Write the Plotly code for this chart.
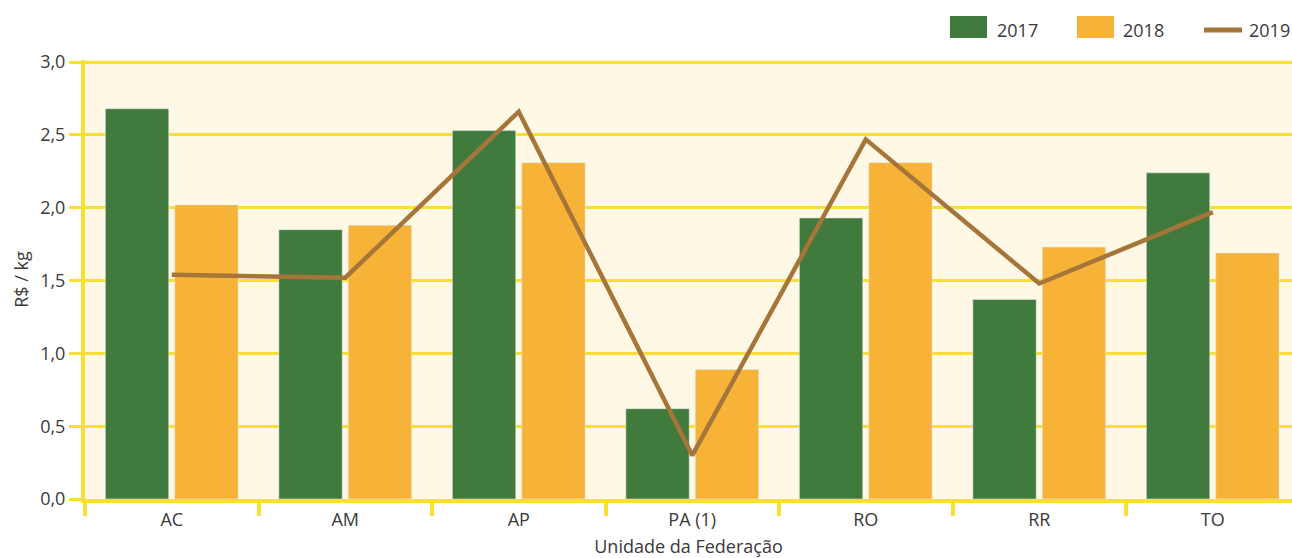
import plotly.graph_objects as go

# Preço médio por unidade da federação (R$/kg)
ufs = ["AC", "AM", "AP", "PA (1)", "RO", "RR", "TO"]
v2017 = [2.68, 1.85, 2.53, 0.62, 1.93, 1.37, 2.24]
v2018 = [2.02, 1.88, 2.31, 0.89, 2.31, 1.73, 1.69]
v2019 = [1.54, 1.52, 2.66, 0.30, 2.47, 1.48, 1.97]
y_ticks = [0, 0.5, 1.0, 1.5, 2.0, 2.5, 3.0]

GREEN = "#417A3D"
ORANGE = "#F7B238"
BROWN = "#A6753A"
YELLOW = "#F9DE36"
BG = "#FEF8E5"
TXT = "#3a3a3a"
FONT = "Open Sans"

W, H = 1292, 558
ML, MR, MT, MB = 85, 0, 60, 59
PW, PH = W - ML - MR, H - MT - MB


def px(x):
    return (x - ML) / PW


def py(y):
    return (H - MB - y) / PH


fig = go.Figure()
fig.add_trace(go.Bar(x=ufs, y=v2017, name="2017", marker_color=GREEN))
fig.add_trace(go.Bar(x=ufs, y=v2018, name="2018", marker_color=ORANGE))
fig.add_trace(go.Scatter(x=ufs, y=v2019, name="2019", mode="lines",
                         line=dict(color=BROWN, width=4.5)))

fig.update_layout(
    width=W, height=H,
    margin=dict(l=ML, r=MR, t=MT, b=MB),
    paper_bgcolor="white",
    plot_bgcolor=BG,
    barmode="group",
    bargap=0.20,
    bargroupgap=0.087,
    separators=",.",
    showlegend=False,
    font=dict(family=FONT, size=18, color=TXT),
)

fig.update_xaxes(
    range=[-0.5, -0.5 + PW / 173.5],
    showgrid=False,
    showline=True, linecolor=YELLOW, linewidth=4,
    ticks="outside", tickson="boundaries", ticklen=13, tickwidth=4,
    tickcolor=YELLOW,
    tickfont=dict(size=18, color=TXT),
    ticklabelstandoff=1,
    title=dict(text="Unidade da Federação", font=dict(size=18, color=TXT),
               standoff=14),
)

fig.update_yaxes(
    range=[0, 3.015],
    tickvals=y_ticks,
    tickformat=".1f",
    showgrid=True, gridcolor=YELLOW, gridwidth=3,
    zeroline=False,
    showline=True, linecolor=YELLOW, linewidth=4,
    ticks="outside", ticklen=12, tickwidth=3, tickcolor=YELLOW,
    tickfont=dict(size=18, color=TXT),
    title=dict(text="R$ / kg", font=dict(size=18, color=TXT), standoff=8),
)

shapes = []
annotations = []

# Prolongamento do eixo vertical abaixo do zero
shapes.append(dict(type="line", xref="paper", yref="paper",
                   x0=px(85), x1=px(85), y0=py(499), y1=py(514),
                   line=dict(color=YELLOW, width=4)))

# Legenda
legend_items = [
    ("2017", "rect", GREEN, 950, 987, 995),
    ("2018", "rect", ORANGE, 1077, 1114, 1121),
    ("2019", "line", BROWN, 1204, 1242, 1247),
]
for label, kind, color, x0, x1, tx in legend_items:
    if kind == "rect":
        shapes.append(dict(type="rect", xref="paper", yref="paper",
                           x0=px(x0), x1=px(x1), y0=py(38), y1=py(16),
                           fillcolor=color, line=dict(width=0)))
    else:
        shapes.append(dict(type="line", xref="paper", yref="paper",
                           x0=px(x0), x1=px(x1), y0=py(30), y1=py(30),
                           line=dict(color=color, width=5)))
    annotations.append(dict(text=label, xref="paper", yref="paper",
                            x=px(tx), y=py(30), xanchor="left",
                            yanchor="middle", showarrow=False,
                            font=dict(size=18, color=TXT, family=FONT)))

fig.update_layout(shapes=shapes, annotations=annotations)

fig.write_html("out.html")
